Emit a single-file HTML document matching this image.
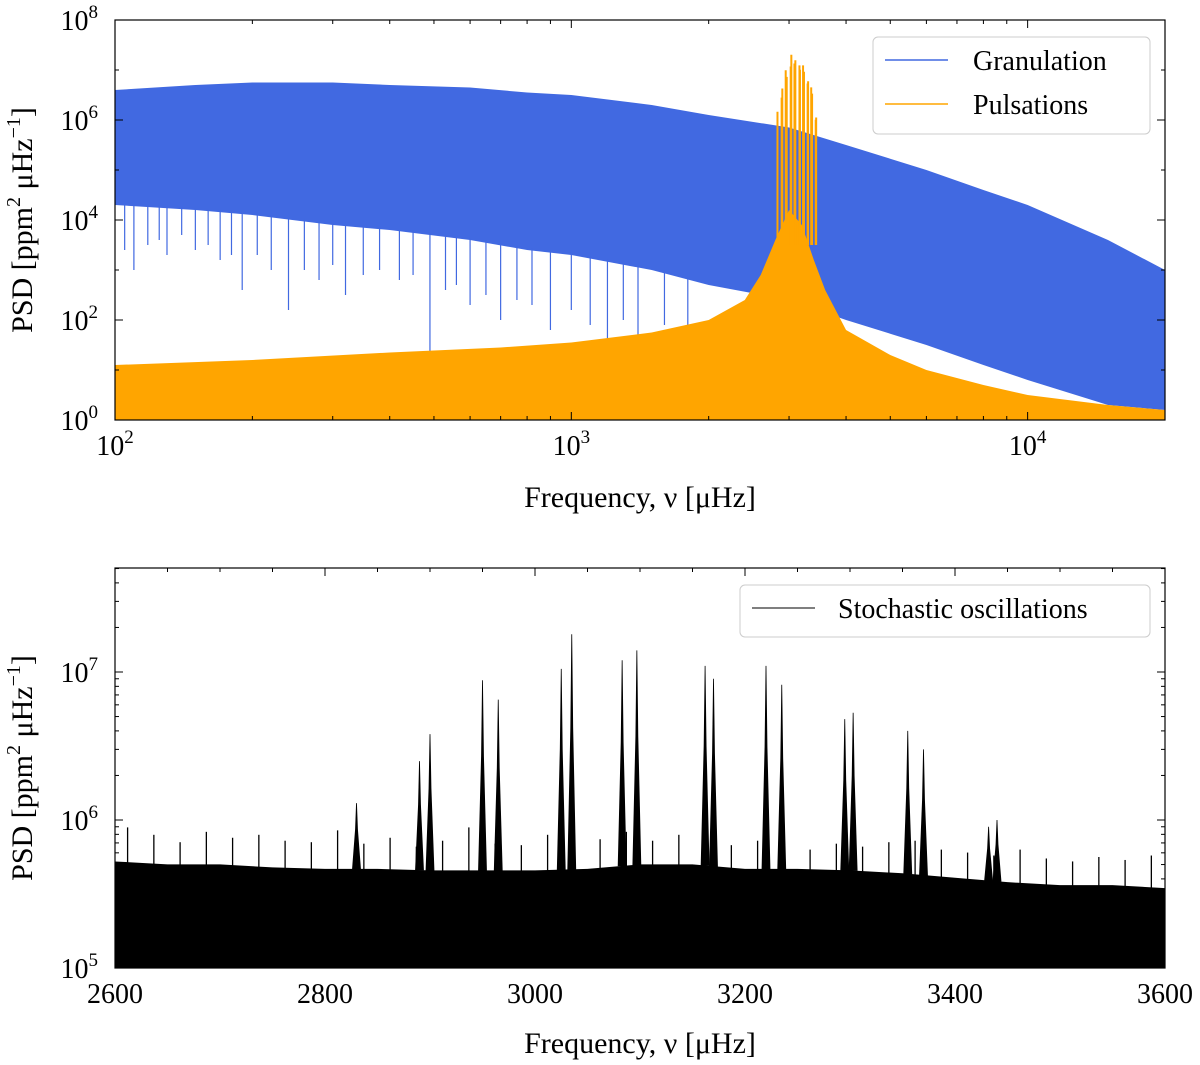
<!DOCTYPE html>
<html><head><meta charset="utf-8"><style>
body{margin:0;background:#fff}
svg{display:block;font-family:"Liberation Serif",serif}
</style></head><body>
<svg id="chart" width="1200" height="1065" viewBox="0 0 1200 1065"></svg>
<script>
// ---- data ----
const granFreq=[100,150,200,300,400,600,800,1000,1500,2000,3000,4000,6000,8000,10000,15000,20000];
const granUpperLog=[6.6,6.7,6.75,6.75,6.7,6.65,6.55,6.5,6.3,6.1,5.85,5.5,5.0,4.6,4.3,3.6,3.0];
const granLowerLog=[4.3,4.2,4.1,3.9,3.8,3.6,3.4,3.3,3.0,2.7,2.4,2.0,1.5,1.1,0.8,0.3,0.2];
const granDipFreq=[105,110,118,125,130,140,150,160,170,180,190,205,220,240,260,280,300,320,350,380,420,450,490,530,560,600,650,700,760,820,900,1000,1100,1200,1300,1400,1600,1800];
const granDipLog=[3.4,3.0,3.5,3.6,3.3,3.7,3.4,3.5,3.2,3.3,2.6,3.3,3.0,2.2,3.0,2.8,3.1,2.5,2.9,3.0,2.8,2.9,0.8,2.6,2.7,2.3,2.5,2.0,2.4,2.3,1.8,2.2,1.9,1.5,2.0,1.6,1.9,1.7];
const pulsFreq=[100,200,400,700,1000,1500,2000,2400,2600,2800,3000,3200,3400,3600,4000,5000,6000,8000,10000,15000,20000];
const pulsUpperLog=[1.1,1.2,1.35,1.45,1.55,1.75,2.0,2.4,2.9,3.6,4.2,3.9,3.2,2.6,1.8,1.3,1.0,0.7,0.5,0.3,0.2];
const peakFreq=[2830,2890,2900,2950,2965,3025,3035,3083,3097,3162,3170,3220,3235,3295,3303,3355,3370,3432,3440];
const peakPow=[1.3e6,2.5e6,3.8e6,8.8e6,6.5e6,1.05e7,1.8e7,1.2e7,1.4e7,1.1e7,9e6,1.1e7,8.2e6,4.8e6,5.3e6,4e6,3e6,9e5,1e6];
const noiseFreq=[2600,2650,2700,2750,2800,2850,2900,2950,3000,3050,3100,3150,3200,3250,3300,3350,3400,3450,3500,3550,3600];
const noiseUpperLog=[5.72,5.7,5.7,5.68,5.67,5.67,5.66,5.66,5.66,5.67,5.7,5.7,5.67,5.67,5.66,5.64,5.61,5.58,5.56,5.56,5.54];
const noiseSpikeFreq=[2612,2637,2662,2687,2712,2737,2762,2787,2812,2837,2862,2887,2912,2937,2962,2987,3012,3037,3062,3087,3112,3137,3162,3187,3212,3237,3262,3287,3312,3337,3362,3387,3412,3437,3462,3487,3512,3537,3562,3587];
const noiseSpikeLog=[5.95,5.9,5.85,5.92,5.88,5.9,5.86,5.85,5.93,5.84,5.88,5.82,5.86,5.95,5.84,5.83,5.9,5.85,5.87,5.92,5.86,5.9,5.88,5.83,5.86,5.85,5.8,5.84,5.82,5.85,5.86,5.8,5.78,5.76,5.8,5.74,5.72,5.75,5.73,5.76];
const topXTicks=[100,1000,10000];
const topXTickLabels=["2","3","4"];
const topYTicks=[0,2,4,6,8];
const botXTicks=[2600,2800,3000,3200,3400,3600];
const botYTicks=[5,6,7];

const NS="http://www.w3.org/2000/svg";
const svg=document.getElementById('chart');
function el(tag,attrs,parent){const e=document.createElementNS(NS,tag);for(const k in attrs)e.setAttribute(k,attrs[k]);(parent||svg).appendChild(e);return e;}

const T={x0:115,x1:1165,y0:420,y1:20};
const tx=f=>T.x0+(Math.log10(f)-2)/(Math.log10(20000)-2)*(T.x1-T.x0);
const ty=l=>T.y0-(l/8)*(T.y0-T.y1);
const B={x0:115,x1:1165,y0:968,y1:568};
const bx=f=>B.x0+(f-2600)/1000*(B.x1-B.x0);
const byl=l=>B.y0-(l-5)*148;

const gTop=el('g',{});

const clipT=el('clipPath',{id:'ct'});el('rect',{x:T.x0,y:T.y1,width:T.x1-T.x0,height:T.y0-T.y1},clipT);
const gT=el('g',{'clip-path':'url(#ct)'},gTop);

let pts=granFreq.map((f,i)=>tx(f)+','+ty(granUpperLog[i]));
for(let i=granFreq.length-1;i>=0;i--)pts.push(tx(granFreq[i])+','+ty(granLowerLog[i]));
const gb=el('polygon',{points:pts.join(' '),fill:'#4169e1'},gT);

granDipFreq.forEach((f,i)=>{
  const li=granFreq.findIndex(g=>g>f);
  const lo=granLowerLog[li-1]+(granLowerLog[li]-granLowerLog[li-1])*(Math.log10(f/granFreq[li-1])/Math.log10(granFreq[li]/granFreq[li-1]));
  const d=el('line',{x1:tx(f),x2:tx(f),y1:ty(lo)-2,y2:ty(granDipLog[i]),stroke:'#4169e1','stroke-width':1.2},gT);
  
});
pts=[tx(100)+','+T.y0].concat(pulsFreq.map((f,i)=>tx(f)+','+ty(pulsUpperLog[i])));pts.push(tx(20000)+','+T.y0);
const pb=el('polygon',{points:pts.join(' '),fill:'#ffa500'},gT);

peakFreq.forEach((f,i)=>{
  const p=el('line',{x1:tx(f),x2:tx(f),y1:ty(3.5),y2:ty(Math.log10(peakPow[i])+0.05),stroke:'#ffa500','stroke-width':2},gT);
  
});

function axesFrame(A,g){el('rect',{x:A.x0,y:A.y1,width:A.x1-A.x0,height:A.y0-A.y1,fill:'none',stroke:'#000','stroke-width':1.2},g);}
axesFrame(T,gTop);
for(let d=2;d<=4;d++)for(let m=1;m<=9;m++){
  const f=m*Math.pow(10,d);if(f>20000)break;
  const x=tx(f),L=m===1?8:4;
  el('line',{x1:x,x2:x,y1:T.y0,y2:T.y0-L,stroke:'#000'},gTop);
  el('line',{x1:x,x2:x,y1:T.y1,y2:T.y1+L,stroke:'#000'},gTop);
}
topXTicks.forEach((f,i)=>{
  const t=el('text',{x:tx(f),y:455,'font-size':28,'text-anchor':'middle'},gTop);
  t.innerHTML='10<tspan dy="-12" font-size="19">'+topXTickLabels[i]+'</tspan>';
  
});
for(let l=0;l<=8;l++){
  const y=ty(l),L=l%2===0?8:4;
  el('line',{x1:T.x0,x2:T.x0+L,y1:y,y2:y,stroke:'#000'},gTop);
  el('line',{x1:T.x1,x2:T.x1-L,y1:y,y2:y,stroke:'#000'},gTop);
}
topYTicks.forEach(l=>{
  const t=el('text',{x:98,y:ty(l)+10,'font-size':28,'text-anchor':'end'},gTop);
  t.innerHTML='10<tspan dy="-12" font-size="19">'+l+'</tspan>';
  
});
let t=el('text',{x:640,y:507,'font-size':30,'text-anchor':'middle'},gTop);t.textContent='Frequency, ν [μHz]';

t=el('text',{transform:'translate(32,220) rotate(-90)','font-size':30,'text-anchor':'middle'},gTop);
t.innerHTML='PSD [ppm<tspan dy="-12" font-size="20">2</tspan><tspan dy="12"> μHz</tspan><tspan dy="-12" font-size="20">−1</tspan><tspan dy="12">]</tspan>';

const lg=el('g',{},gTop);
el('rect',{x:873,y:37,width:277,height:97,rx:5,fill:'#fff','fill-opacity':0.85,stroke:'#ccc'},lg);
el('line',{x1:885,x2:948,y1:60,y2:60,stroke:'#4169e1','stroke-width':1.5},lg);
el('line',{x1:885,x2:948,y1:104,y2:104,stroke:'#ffa500','stroke-width':1.5},lg);
t=el('text',{x:973,y:70,'font-size':28},lg);t.textContent='Granulation';
t=el('text',{x:973,y:114,'font-size':28},lg);t.textContent='Pulsations';

const gBot=el('g',{});
const clipB=el('clipPath',{id:'cb'});el('rect',{x:B.x0,y:B.y1,width:B.x1-B.x0,height:B.y0-B.y1},clipB);
const gB=el('g',{'clip-path':'url(#cb)'},gBot);
pts=[bx(2600)+','+B.y0].concat(noiseFreq.map((f,i)=>bx(f)+','+byl(noiseUpperLog[i])));pts.push(bx(3600)+','+B.y0);
const nb=el('polygon',{points:pts.join(' '),fill:'#000'},gB);

const noiseAt=f=>{let i=Math.min(noiseFreq.length-2,Math.floor((f-2600)/50));return noiseUpperLog[i]+(noiseUpperLog[i+1]-noiseUpperLog[i])*(f-noiseFreq[i])/50;};
noiseSpikeFreq.forEach((f,i)=>{
  const s=el('line',{x1:bx(f),x2:bx(f),y1:byl(noiseAt(f))+2,y2:byl(noiseSpikeLog[i]),stroke:'#000','stroke-width':1.3},gB);
  
});
peakFreq.forEach((f,i)=>{
  const base=byl(noiseAt(f)),top=byl(Math.log10(peakPow[i])),x=bx(f);
  const p=el('polygon',{points:(x-4)+','+base+' '+(x-1)+','+(base-(base-top)*0.6)+' '+x+','+top+' '+(x+1)+','+(base-(base-top)*0.6)+' '+(x+4)+','+base,fill:'#000',stroke:'#000','stroke-width':0.8},gB);
  
});
axesFrame(B,gBot);
for(let f=2600;f<=3600;f+=50){
  const x=bx(f),L=f%200===0?8:4;
  el('line',{x1:x,x2:x,y1:B.y0,y2:B.y0-L,stroke:'#000'},gBot);
  el('line',{x1:x,x2:x,y1:B.y1,y2:B.y1+L,stroke:'#000'},gBot);
}
botXTicks.forEach(f=>{
  const t=el('text',{x:bx(f),y:1003,'font-size':28,'text-anchor':'middle'},gBot);t.textContent=f;
  
});
for(let d=5;d<=7;d++)for(let m=1;m<=9;m++){
  const l=d+Math.log10(m),y=byl(l);if(y<B.y1)break;const L=m===1?8:4;
  el('line',{x1:B.x0,x2:B.x0+L,y1:y,y2:y,stroke:'#000'},gBot);
  el('line',{x1:B.x1,x2:B.x1-L,y1:y,y2:y,stroke:'#000'},gBot);
}
botYTicks.forEach(l=>{
  const t=el('text',{x:98,y:byl(l)+10,'font-size':28,'text-anchor':'end'},gBot);
  t.innerHTML='10<tspan dy="-12" font-size="19">'+l+'</tspan>';
  
});
t=el('text',{x:640,y:1053,'font-size':30,'text-anchor':'middle'},gBot);t.textContent='Frequency, ν [μHz]';

t=el('text',{transform:'translate(32,768) rotate(-90)','font-size':30,'text-anchor':'middle'},gBot);
t.innerHTML='PSD [ppm<tspan dy="-12" font-size="20">2</tspan><tspan dy="12"> μHz</tspan><tspan dy="-12" font-size="20">−1</tspan><tspan dy="12">]</tspan>';

const lb=el('g',{},gBot);
el('rect',{x:740,y:585,width:410,height:52,rx:5,fill:'#fff','fill-opacity':0.85,stroke:'#ccc'},lb);
el('line',{x1:752,x2:815,y1:608,y2:608,stroke:'#555','stroke-width':1.5},lb);
t=el('text',{x:838,y:618,'font-size':28},lb);t.textContent='Stochastic oscillations';

</script>
</body></html>
